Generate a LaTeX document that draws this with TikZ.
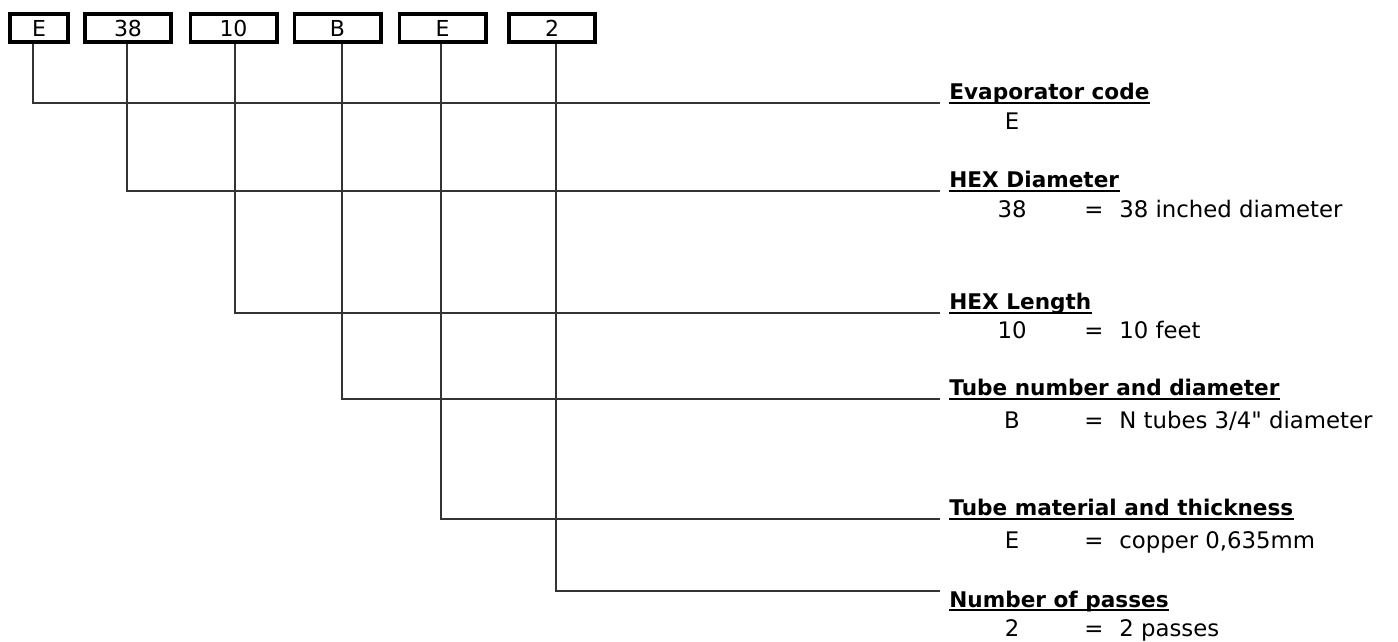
\documentclass[tikz,border=0pt]{standalone}
\usepackage{fontspec}
\newfontfamily\verdfont{DejaVu Sans}
\usetikzlibrary{positioning}
\tikzset{
 codebox/.style={draw,line width=1.8pt,minimum height=14.2pt,minimum width=43.2pt,inner sep=0pt,font=\verdfont\fontsize{11}{13}\selectfont},
 titlebox/.style={anchor=base west,inner xsep=4.5pt,inner ysep=0pt,font=\verdfont\bfseries\fontsize{10.8}{13}\selectfont},
 valbox/.style={anchor=base,inner sep=0pt,font=\verdfont\fontsize{11.4}{13}\selectfont},
 descbox/.style={anchor=base west,inner sep=0pt,font=\verdfont\fontsize{11.4}{13}\selectfont},
 conn/.style={black!80,line width=1pt},
 uline/.style={line width=1pt}
}
\begin{document}
\begin{tikzpicture}[x=0.5pt,y=-0.5pt]
 \useasboundingbox (0,0) rectangle (1398,642);
 \node[codebox,minimum width=29.2pt] (code) at (39,28) {E};
 \node[codebox] (diam) at (128,28) {38};
 \node[codebox] (len) at (233.5,28) {10};
 \node[codebox] (tubes) at (337.5,28) {B};
 \node[codebox] (mat) at (442.5,28) {E};
 \node[codebox] (pass) at (552,28) {2};

 \node[titlebox] (codet) at (940,99.5) {Evaporator code};
 \node[titlebox] (diamt) at (940,187.7) {HEX Diameter};
 \node[titlebox] (lent) at (940,309.3) {HEX Length};
 \node[titlebox] (tubest) at (940,395.3) {Tube number and diameter};
 \node[titlebox] (matt) at (940,515.3) {Tube material and thickness};
 \node[titlebox] (passt) at (940,607) {Number of passes};

 \draw[uline] ([xshift=4.5pt,yshift=-1.6pt]codet.base west) -- ([xshift=-4.5pt,yshift=-1.6pt]codet.base east);
 \draw[uline] ([xshift=4.5pt,yshift=-1.6pt]diamt.base west) -- ([xshift=-4.5pt,yshift=-1.6pt]diamt.base east);
 \draw[uline] ([xshift=4.5pt,yshift=-1.6pt]lent.base west) -- ([xshift=-4.5pt,yshift=-1.6pt]lent.base east);
 \draw[uline] ([xshift=4.5pt,yshift=-1.6pt]tubest.base west) -- ([xshift=-4.5pt,yshift=-1.6pt]tubest.base east);
 \draw[uline] ([xshift=4.5pt,yshift=-1.6pt]matt.base west) -- ([xshift=-4.5pt,yshift=-1.6pt]matt.base east);
 \draw[uline] ([xshift=4.5pt,yshift=-1.6pt]passt.base west) -- ([xshift=-4.5pt,yshift=-1.6pt]passt.base east);

 \node[valbox] (codev) at (1012,130) {E};
 \node[valbox] (diamv) at (1012,218) {38};
 \node[valbox] (diame) at (1094,218) {=};
 \node[descbox] (diamd) at (1119,218) {38 inched diameter};
 \node[valbox] (lenv) at (1012,338) {10};
 \node[valbox] (lene) at (1094,338) {=};
 \node[descbox] (lend) at (1119,338) {10 feet};
 \node[valbox] (tubesv) at (1012,428) {B};
 \node[valbox] (tubese) at (1094,428) {=};
 \node[descbox] (tubesd) at (1119,428) {N tubes 3/4" diameter};
 \node[valbox] (matv) at (1012,548) {E};
 \node[valbox] (mate) at (1094,548) {=};
 \node[descbox] (matd) at (1119,548) {copper 0,635mm};
 \node[valbox] (passv) at (1012,636) {2};
 \node[valbox] (passe) at (1094,636) {=};
 \node[descbox] (passd) at (1119,636) {2 passes};

 \coordinate (k1) at (33,103);
 \coordinate (k2) at (127,191);
 \coordinate (k3) at (235,313);
 \coordinate (k4) at (342,398.5);
 \coordinate (k5) at (441,518.5);
 \coordinate (k6) at (556,591);
 \draw[conn] (code.south -| k1) -- (k1) -- (k1 -| codet.west);
 \draw[conn] (diam.south -| k2) -- (k2) -- (k2 -| diamt.west);
 \draw[conn] (len.south -| k3) -- (k3) -- (k3 -| lent.west);
 \draw[conn] (tubes.south -| k4) -- (k4) -- (k4 -| tubest.west);
 \draw[conn] (mat.south -| k5) -- (k5) -- (k5 -| matt.west);
 \draw[conn] (pass.south -| k6) -- (k6) -- (k6 -| passt.west);
\end{tikzpicture}
\end{document}
